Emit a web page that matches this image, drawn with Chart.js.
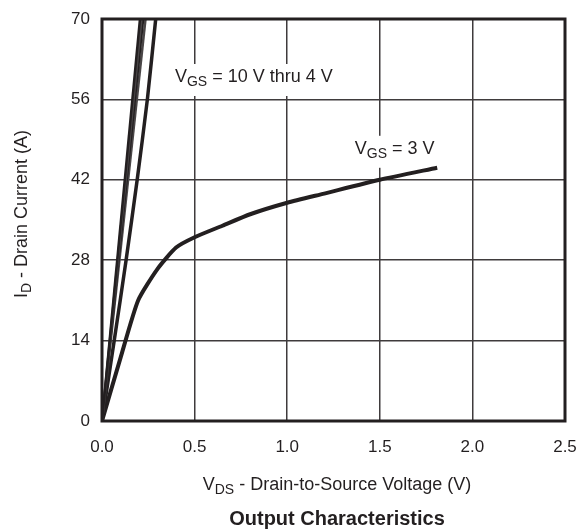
<!DOCTYPE html>
<html>
<head>
<meta charset="utf-8">
<script src="https://cdn.jsdelivr.net/npm/chart.js@4/dist/chart.umd.min.js"></script>
<style>
  html, body { margin: 0; padding: 0; background: #fff; }
  #wrap { width: 580px; height: 529px; }
</style>
</head>
<body>
<div id="wrap"><canvas id="chart"></canvas></div>
<script>
// VGS = 3 V curve
const vds3 = [0, 0.1, 0.195, 0.3, 0.4, 0.5, 0.65, 0.8, 1.0, 1.2, 1.5, 1.81];
const id3 = [0, 11, 21, 26.5, 30.2, 32, 34, 36, 38, 39.6, 42, 44.1];

// VGS = 4 V, slightly bowed line
const vds4 = [0, 0.066, 0.13, 0.19, 0.245, 0.29];
const id4 = [0, 14, 28, 42, 56, 70];

// VGS = 10 V thru 5 V, near-straight lines from origin; VDS where each hits 70 A
const steepLabels = ['10 V', '8 V', '6 V', '5 V'];
const steepVdsAt70 = [0.205, 0.213, 0.222, 0.235];
const steepTop = 70;

const xTicks = [0, 0.5, 1.0, 1.5, 2.0, 2.5];
const yTicks = [0, 14, 28, 42, 56, 70];

const ink = '#231f20';
const fontFam = '"Liberation Sans", Arial, Helvetica, sans-serif';

const datasets = [];
steepVdsAt70.forEach((v, i) => {
    datasets.push({
        label: steepLabels[i],
        data: [{ x: 0, y: 0 }, { x: v, y: steepTop }],
        borderColor: i % 2 ? '#4a4647' : ink,
        borderWidth: 2.5,
        pointRadius: 0,
        tension: 0
    });
});
datasets.push({
    label: '4 V',
    data: vds4.map((v, i) => ({ x: v, y: id4[i] })),
    borderColor: ink,
    borderWidth: 3.5,
    pointRadius: 0,
    tension: 0.2
});
datasets.push({
    label: '3 V',
    data: vds3.map((v, i) => ({ x: v, y: id3[i] })),
    borderColor: ink,
    borderWidth: 4,
    pointRadius: 0,
    tension: 0.2
});

// text with a subscript part: [ [text, isSub], ... ]
function measureParts(ctx, parts, size) {
    let w = 0;
    parts.forEach(p => {
        ctx.font = (p[1] ? Math.round(size * 0.78) : size) + 'px ' + fontFam;
        w += ctx.measureText(p[0]).width;
    });
    return w;
}
function drawParts(ctx, parts, x, y, size) {
    ctx.textBaseline = 'middle';
    ctx.textAlign = 'left';
    parts.forEach(p => {
        const s = p[1] ? Math.round(size * 0.78) : size;
        ctx.font = s + 'px ' + fontFam;
        ctx.fillText(p[0], x, p[1] ? y + size * 0.27 : y);
        x += ctx.measureText(p[0]).width;
    });
}

const labels = [
    { x: 0.394, y: 59.9, parts: [['V', 0], ['GS', 1], [' = 10 V thru 4 V', 0]] },
    { x: 1.365, y: 47.4, parts: [['V', 0], ['GS', 1], [' = 3 V', 0]] }
];

const decor = {
    id: 'decor',
    beforeDatasetsDraw(chart) {
        const ctx = chart.ctx;
        const sx = chart.scales.x, sy = chart.scales.y;
        ctx.save();
        ctx.fillStyle = '#fff';
        labels.forEach(l => {
            const w = measureParts(ctx, l.parts, 18);
            ctx.fillRect(sx.getPixelForValue(l.x) - 4, sy.getPixelForValue(l.y) - 13, w + 8, 32);
        });
        ctx.restore();
    },
    afterDatasetsDraw(chart) {
        const ctx = chart.ctx;
        const a = chart.chartArea;
        const sx = chart.scales.x, sy = chart.scales.y;
        ctx.save();
        ctx.strokeStyle = ink;
        ctx.lineWidth = 3;
        ctx.strokeRect(a.left, a.top, a.right - a.left, a.bottom - a.top);
        ctx.fillStyle = ink;
        labels.forEach(l => {
            drawParts(ctx, l.parts, sx.getPixelForValue(l.x), sy.getPixelForValue(l.y), 18);
        });
        // x axis title
        const xParts = [['V', 0], ['DS', 1], [' - Drain-to-Source Voltage (V)', 0]];
        const cx = 337;
        const xw = measureParts(ctx, xParts, 18);
        drawParts(ctx, xParts, cx - xw / 2, 485, 18);
        // chart title
        ctx.font = 'bold 20px ' + fontFam;
        ctx.textAlign = 'center';
        ctx.textBaseline = 'middle';
        ctx.fillText('Output Characteristics', cx, 519);
        // y axis title
        const yParts = [['I', 0], ['D', 1], [' - Drain Current (A)', 0]];
        ctx.translate(22, 214);
        ctx.rotate(-Math.PI / 2);
        const yw = measureParts(ctx, yParts, 18);
        drawParts(ctx, yParts, -yw / 2, 0, 18);
        ctx.restore();
    }
};

new Chart(document.getElementById('chart'), {
    type: 'line',
    data: { datasets },
    options: {
        responsive: true,
        maintainAspectRatio: false,
        animation: false,
        layout: { padding: { top: 19, right: 15, left: 0, bottom: 0 } },
        plugins: { legend: { display: false }, tooltip: { enabled: false } },
        scales: {
            x: {
                type: 'linear',
                min: 0,
                max: 2.5,
                afterFit(s) { s.height = 108; s.paddingLeft = 0; s.paddingRight = 0; },
                afterBuildTicks(s) { s.ticks = xTicks.map(v => ({ value: v })); },
                grid: { color: '#3f3b3c', lineWidth: 1.5, drawTicks: false },
                border: { display: false },
                ticks: {
                    color: ink,
                    padding: 16,
                    font: { family: fontFam, size: 17 },
                    callback: v => v.toFixed(1)
                }
            },
            y: {
                type: 'linear',
                min: 0,
                max: 70,
                afterFit(s) { s.width = 102; s.paddingTop = 0; s.paddingBottom = 0; },
                afterBuildTicks(s) { s.ticks = yTicks.map(v => ({ value: v })); },
                grid: { color: '#3f3b3c', lineWidth: 1.5, drawTicks: false },
                border: { display: false },
                ticks: {
                    color: ink,
                    padding: 12,
                    font: { family: fontFam, size: 17 }
                }
            }
        }
    },
    plugins: [decor]
});
</script>
</body>
</html>
